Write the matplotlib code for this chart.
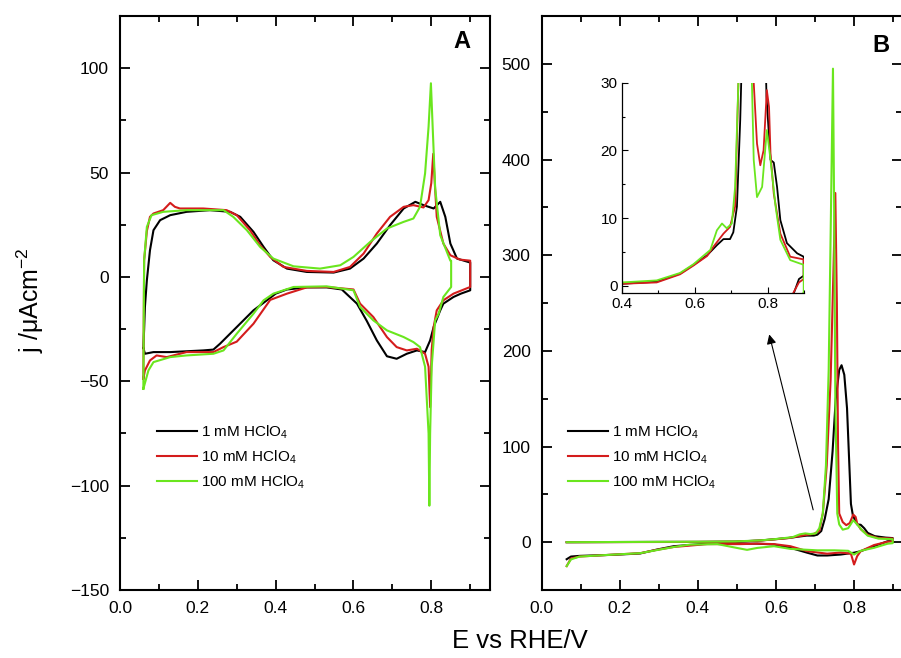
import matplotlib
matplotlib.use("Agg")
import matplotlib.pyplot as plt
from matplotlib.ticker import MultipleLocator, FormatStrFormatter

plt.rcParams['font.family'] = ['Liberation Sans', 'DejaVu Sans']
plt.rcParams['mathtext.fontset'] = 'custom'
plt.rcParams['mathtext.rm'] = 'Liberation Sans'
plt.rcParams['mathtext.it'] = 'Liberation Sans:italic'

labels = ['1 mM HClO$_4$', '10 mM HClO$_4$', '100 mM HClO$_4$']
colors = ['#000000', '#d41c1c', '#6ae61e']

# ---- panel A : anodic sweep then cathodic sweep
a_black_E = [0.06, 0.062, 0.064, 0.069, 0.077, 0.086, 0.103, 0.129, 0.171, 0.231, 0.283, 0.309,
             0.343, 0.369, 0.394, 0.429, 0.48, 0.549, 0.591, 0.626, 0.66, 0.694, 0.729, 0.759,
             0.78, 0.806, 0.823, 0.836, 0.849, 0.866, 0.9,
             0.9, 0.876, 0.857, 0.831, 0.823, 0.806, 0.797, 0.784, 0.763, 0.737, 0.711, 0.686,
             0.66, 0.634, 0.609, 0.57, 0.531, 0.48, 0.429, 0.4, 0.386, 0.343, 0.3, 0.257, 0.24,
             0.214, 0.129, 0.086, 0.064, 0.06]
a_black_j = [-34, -25, -14.4, -1.6, 12.8, 22.4, 27.2, 29.6, 31.2, 32, 31.2, 28.8,
             21.6, 14.4, 8, 4, 2.4, 2.1, 4, 8.8, 16, 24.8, 32.8, 36,
             34.4, 32.8, 36, 28.8, 16, 8.8, 6.9,
             -6.4, -8, -9.6, -12.8, -16, -24, -30.4, -36, -35.2, -36.8, -39.2, -38,
             -30.4, -21, -12.8, -6, -5, -5, -6, -8, -10, -16, -24, -32, -34.8,
             -35.2, -36, -36, -36.8, -34]

a_red_E = [0.06, 0.061, 0.062, 0.069, 0.077, 0.086, 0.111, 0.129, 0.141, 0.154, 0.214, 0.274,
           0.3, 0.334, 0.36, 0.386, 0.42, 0.48, 0.549, 0.591, 0.626, 0.66, 0.694, 0.729, 0.754,
           0.78, 0.793, 0.8, 0.805, 0.809, 0.814, 0.831, 0.849, 0.874, 0.9,
           0.9, 0.857, 0.831, 0.814, 0.806, 0.801, 0.797, 0.793, 0.784, 0.763, 0.737, 0.711,
           0.686, 0.651, 0.617, 0.6, 0.531, 0.48, 0.429, 0.386, 0.343, 0.3, 0.266, 0.24, 0.171,
           0.12, 0.094, 0.077, 0.064, 0.06]
a_red_j = [-48.8, -20, 8, 22, 28.8, 30.4, 32, 35.5, 33.6, 32.8, 32.8, 32,
           29.6, 22.4, 15.2, 9.6, 4.8, 2.9, 2.4, 4.8, 11.2, 20.8, 28.8, 33.6, 34.4,
           33.3, 36.8, 45, 59, 45, 28.8, 16, 10.4, 8.3, 7.8,
           -4.8, -8, -11.2, -16, -24, -35, -62.4, -43, -36.8, -34.4, -35.2, -33.6,
           -28.8, -19.2, -12.8, -6, -4.8, -5, -8, -11, -22.4, -31, -33.6, -36, -36,
           -38.4, -37.6, -40, -44.8, -48.8]

a_green_E = [0.06, 0.061, 0.062, 0.069, 0.081, 0.111, 0.171, 0.266, 0.291, 0.326, 0.36, 0.394,
             0.446, 0.514, 0.566, 0.6, 0.643, 0.686, 0.729, 0.754, 0.771, 0.784, 0.793, 0.799,
             0.804, 0.81, 0.823, 0.849, 0.851,
             0.851, 0.831, 0.819, 0.81, 0.801, 0.797, 0.795, 0.793, 0.784, 0.771, 0.754, 0.729,
             0.686, 0.651, 0.617, 0.6, 0.531, 0.446, 0.394, 0.369, 0.343, 0.3, 0.266, 0.24,
             0.171, 0.129, 0.086, 0.073, 0.06]
a_green_j = [-53.6, -20, 8, 24, 29.6, 31.2, 32, 32, 28.8, 22.4, 14.4, 8.8,
             5.1, 4, 5.6, 9.6, 16.8, 23.2, 26.4, 28, 33.6, 49.6, 72, 92.8,
             69.6, 42.4, 20, 7.8, 7.8,
             -4.8, -9.6, -17.6, -20.8, -43, -75, -109.6, -75, -43, -33.6, -31.2, -28.8,
             -25.6, -20.8, -14.4, -6.4, -4.5, -4.8, -8, -11.2, -17.6, -27.2, -35.2, -36.8,
             -37.6, -38.4, -40.8, -44.8, -53.6]

# ---- panel B
b_black_E = [0.064, 0.2, 0.3, 0.4, 0.496, 0.56, 0.597, 0.634, 0.661, 0.679, 0.697, 0.706,
             0.716, 0.725, 0.735, 0.745, 0.753, 0.762, 0.768, 0.775, 0.782, 0.788, 0.792,
             0.797, 0.804, 0.808, 0.817, 0.826, 0.835, 0.853, 0.881, 0.899,
             0.899, 0.886, 0.851, 0.817, 0.8, 0.766, 0.731, 0.706, 0.68, 0.637, 0.595, 0.552,
             0.509, 0.424, 0.338, 0.295, 0.252, 0.183, 0.097, 0.075, 0.064]
b_black_j = [0, 0.2, 0.3, 0.3, 0.6, 1.8, 3.1, 4.5, 6.0, 6.9, 6.9, 7.9,
             11.7, 24.5, 45, 95, 149, 180, 185, 175, 140, 80, 40,
             28, 22, 18.6, 18.2, 14.6, 9.7, 6.3, 4.8, 4.3,
             1.5, 1, -4.2, -9.4, -11, -12.9, -13.9, -13.9, -11, -5.9, -2.4, -1.5,
             -1.5, -1.5, -4.2, -7.7, -11.8, -13.2, -14.3, -15, -17.8]

b_red_E = [0.064, 0.4, 0.496, 0.56, 0.597, 0.634, 0.652, 0.679, 0.697, 0.711, 0.72, 0.73,
           0.74, 0.747, 0.752, 0.756, 0.759, 0.762, 0.771, 0.78, 0.789, 0.798, 0.804, 0.808,
           0.817, 0.835, 0.862, 0.899,
           0.899, 0.886, 0.851, 0.817, 0.808, 0.8, 0.792, 0.766, 0.731, 0.68, 0.637, 0.595,
           0.552, 0.509, 0.424, 0.338, 0.295, 0.252, 0.183, 0.097, 0.075, 0.064]
b_red_j = [0, 0.3, 0.5, 1.7, 3, 4.4, 5.8, 7.7, 8.7, 11.7, 30, 80,
           170, 280, 365, 250, 100, 30, 21, 17.8, 20, 28.9, 26.4, 19.6,
           13.6, 7.7, 4.3, 3.9,
           1, 0.5, -3, -9.4, -14.6, -23.3, -12, -10.8, -12, -9.4, -4.2, -2,
           -1.5, -2, -2, -5, -8, -11.5, -13, -15, -17, -25]

b_green_E = [0.064, 0.4, 0.496, 0.56, 0.597, 0.643, 0.661, 0.675, 0.688, 0.702, 0.711, 0.72,
             0.728, 0.735, 0.741, 0.746, 0.749, 0.752, 0.757, 0.762, 0.771, 0.785, 0.798, 0.808,
             0.822, 0.835, 0.862, 0.899,
             0.899, 0.886, 0.851, 0.817, 0.8, 0.785, 0.75, 0.706, 0.637, 0.595, 0.552, 0.526,
             0.5, 0.45, 0.38, 0.338, 0.252, 0.183, 0.097, 0.075, 0.064]
b_green_j = [0, 0.5, 0.8, 1.9, 3.2, 5.3, 8.2, 9.2, 8.5, 9.2, 14.6, 30,
             80, 180, 350, 495, 350, 150, 30, 18.6, 13.1, 14.6, 23, 18.6,
             11.7, 6.8, 3.8, 3.1,
             -1, -1.6, -5.9, -9, -12.9, -9, -8.5, -8.5, -7, -4.2, -6, -8,
             -6, -2, -2.5, -5, -11.5, -13, -15, -18, -25]

a_curves = [(a_black_E, a_black_j), (a_red_E, a_red_j), (a_green_E, a_green_j)]
b_curves = [(b_black_E, b_black_j), (b_red_E, b_red_j), (b_green_E, b_green_j)]

fig = plt.figure(figsize=(9.01, 6.58), dpi=100)
ax_a = fig.add_axes([0.1332, 0.1033, 0.4107, 0.8723])
ax_b = fig.add_axes([0.6012, 0.1033, 0.4000, 0.8723])
ax_in = fig.add_axes([0.690, 0.5543, 0.2024, 0.3201])

for (E, j), c, lab in zip(a_curves, colors, labels):
    ax_a.plot(E, j, color=c, lw=1.5, label=lab)
for (E, j), c, lab in zip(b_curves, colors, labels):
    ax_b.plot(E, j, color=c, lw=1.5, label=lab)
    ax_in.plot(E, j, color=c, lw=1.3)

ax_a.set_xlim(0, 0.951)
ax_a.set_ylim(-150, 125)
ax_a.xaxis.set_major_locator(MultipleLocator(0.2))
ax_a.xaxis.set_minor_locator(MultipleLocator(0.1))
ax_a.yaxis.set_major_locator(MultipleLocator(50))
ax_a.yaxis.set_minor_locator(MultipleLocator(25))

ax_b.set_xlim(0, 0.923)
ax_b.set_ylim(-50, 550)
ax_b.xaxis.set_major_locator(MultipleLocator(0.2))
ax_b.xaxis.set_minor_locator(MultipleLocator(0.1))
ax_b.yaxis.set_major_locator(MultipleLocator(100))
ax_b.yaxis.set_minor_locator(MultipleLocator(50))
ax_b.spines['right'].set_visible(False)

for ax in (ax_a, ax_b):
    for s in ax.spines.values():
        s.set_linewidth(1.5)
    ax.tick_params(which='both', direction='in', top=True, right=True, width=1.3,
                   labelsize=12.5, pad=8)
    ax.tick_params(which='major', length=7)
    ax.tick_params(which='minor', length=4)
    ax.xaxis.set_major_formatter(FormatStrFormatter('%.1f'))
    ax.legend(loc='upper left', frameon=False, fontsize=11, handlelength=2.6,
              handletextpad=0.3, labelspacing=0.5, borderpad=0, borderaxespad=0,
              bbox_to_anchor=(0.1 if ax is ax_a else 0.073, 0.29))

ax_in.set_xlim(0.4, 0.9)
ax_in.set_ylim(-1.1, 30)
ax_in.xaxis.set_major_locator(MultipleLocator(0.2))
ax_in.xaxis.set_minor_locator(MultipleLocator(0.1))
ax_in.yaxis.set_major_locator(MultipleLocator(10))
ax_in.yaxis.set_minor_locator(MultipleLocator(5))
ax_in.spines['top'].set_visible(False)
ax_in.spines['right'].set_visible(False)
for s in ax_in.spines.values():
    s.set_linewidth(0.9)
ax_in.tick_params(which='both', direction='in', width=0.8, labelsize=11, pad=3)
ax_in.tick_params(which='major', length=4)
ax_in.tick_params(which='minor', length=2.5)
ax_in.xaxis.set_major_formatter(FormatStrFormatter('%.1f'))

ax_b.annotate('', xy=(0.581, 220), xytext=(0.697, 31),
              arrowprops=dict(arrowstyle='-|>', color='black', lw=0.8, mutation_scale=14))

ax_a.text(0.924, 0.956, 'A', transform=ax_a.transAxes, fontsize=17, fontweight='bold',
          ha='center', va='center')
ax_b.text(0.9415, 0.9495, 'B', transform=ax_b.transAxes, fontsize=17, fontweight='bold',
          ha='center', va='center')

fig.text(30 / 901, 1 - 300 / 658, 'j /\u03bcAcm$^{-2}$', rotation=90, fontsize=18,
         ha='center', va='center')
fig.text(520 / 901, 1 - 641 / 658, 'E vs RHE/V', fontsize=18.5, ha='center', va='center')

fig.savefig('out.png', dpi=100)
